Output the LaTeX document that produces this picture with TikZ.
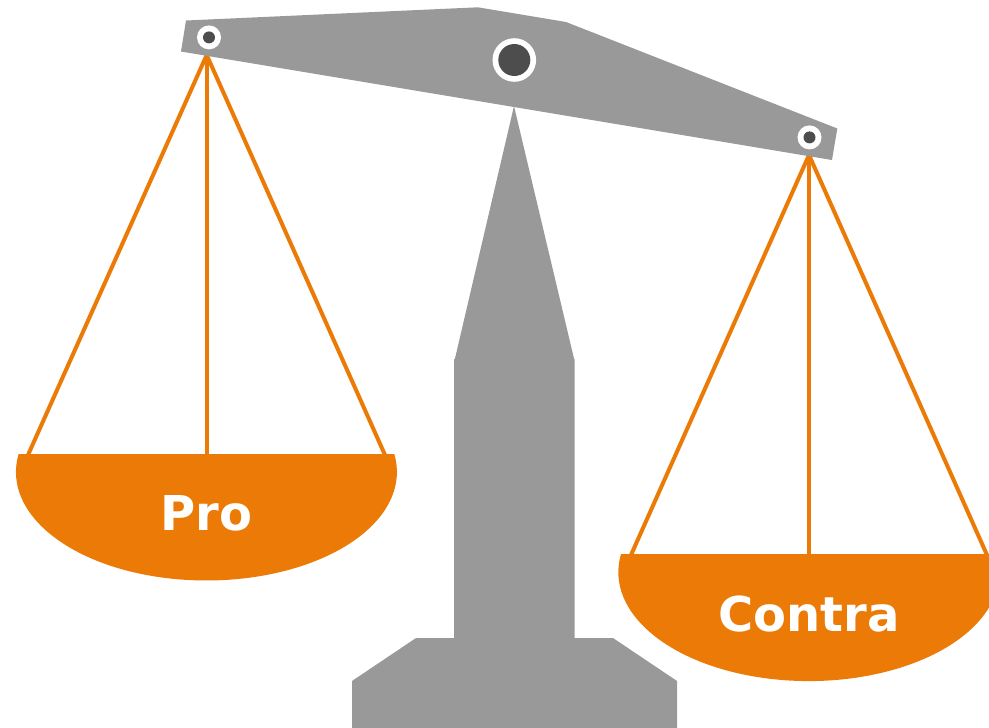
\documentclass[tikz,border=0pt]{standalone}
\usepackage{fontspec}
\setmainfont{DejaVu Sans}
\definecolor{beamgray}{HTML}{999999}
\definecolor{pinDark}{HTML}{4D4D4D}
\definecolor{panOrange}{HTML}{EB7A07}
\tikzset{
  x=1pt,y=1pt,
  grayshape/.style={fill=beamgray,draw=none},
  panshape/.style={fill=panOrange,draw=none},
  cord/.style={draw=panOrange,line width=4pt,line cap=butt},
  panlabel/.style={text=white,font=\bfseries\fontsize{48}{48}\selectfont,anchor=base,inner sep=0pt,outer sep=0pt},
  pindisc/.style={circle,draw=none,inner sep=0pt,outer sep=0pt}
}
\begin{document}
\begin{tikzpicture}
\useasboundingbox (0,-728) rectangle (989,0);
\clip (0,-728) rectangle (989,0);
% stand
\fill[grayshape] (514,-106) -- (574,-358.5) -- (574.5,-359.5) -- (574.5,-638) -- (613,-638) -- (677,-681) -- (677,-728) -- (352,-728) -- (352,-681) -- (416,-638) -- (454,-638) -- (454,-359.5) -- (455,-358.5) -- cycle;
% cord end points
\coordinate (LA) at (206.7,-55);
\coordinate (LL) at (28,-455);
\coordinate (LM) at (206.7,-455);
\coordinate (LR) at (385,-455);
\coordinate (RA) at (809,-155);
\coordinate (RL) at (631,-555);
\coordinate (RM) at (809,-555);
\coordinate (RR) at (987,-555);
\draw[cord] (LL) -- (LA) -- (LR);
\draw[cord] (LA) -- (LM);
\draw[cord] (RL) -- (RA) -- (RR);
\draw[cord] (RA) -- (RM);
% pans
\fill[panshape] (18.6,-454) arc[start angle=170.45,end angle=369.55,x radius=190.5,y radius=108.5] -- cycle;
\fill[panshape] (621,-554) arc[start angle=170.45,end angle=369.55,x radius=190.5,y radius=109] -- cycle;
% beam
\fill[grayshape] (186,-20.5) -- (478,-7.3) -- (566,-22) -- (837.3,-128.5) -- (832,-160) -- (181,-51.5) -- cycle;
% pins
\node[pindisc,fill=white,minimum size=24pt] (pinLo) at (209,-37.4) {};
\node[pindisc,fill=pinDark,minimum size=12pt] (pinLi) at (209,-37.4) {};
\node[pindisc,fill=white,minimum size=43.6pt] (pinCo) at (514.3,-60) {};
\node[pindisc,fill=pinDark,minimum size=32pt] (pinCi) at (514.3,-60) {};
\node[pindisc,fill=white,minimum size=24pt] (pinRo) at (809.5,-137.4) {};
\node[pindisc,fill=pinDark,minimum size=12pt] (pinRi) at (809.5,-137.4) {};
% labels
\node[panlabel] (pro) at (206.3,-530) {Pro};
\node[panlabel] (contra) at (808.7,-631) {Contra};
\end{tikzpicture}
\end{document}
